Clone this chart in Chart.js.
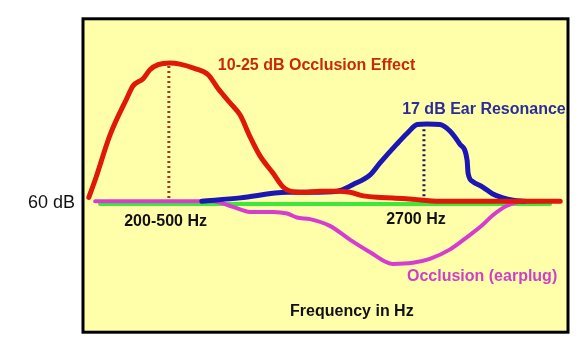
<!DOCTYPE html>
<html>
<head>
<meta charset="utf-8">
<script src="https://cdn.jsdelivr.net/npm/chart.js@4/dist/chart.umd.min.js"></script>
<style>
  body { margin: 0; background: #fff; }
  #wrap { width: 580px; height: 351px; }
</style>
</head>
<body>
<div id="wrap"><canvas id="myChart" width="580" height="351"></canvas></div>
<script>
// x = relative position along the frequency axis (0..100), y = level in dB
const occlusionX = [1.2, 2.5, 5.6, 9.1, 10.3, 12.4, 13.8, 15.5, 17.9, 20.0, 23.1, 25.8, 27.8, 30.3, 32.4, 34.4, 36.5, 39.2, 41.2, 42.7, 45.4, 48.9, 52.4, 55.1, 57.1, 60.6, 63.9, 67.4, 73.6, 86.0, 98.4];
const occlusionDb = [61.0, 64.1, 72.2, 78.8, 80.9, 82.2, 83.8, 84.7, 85.0, 84.8, 84.0, 82.9, 80.5, 77.9, 75.7, 71.9, 68.4, 65.3, 62.9, 62.1, 61.9, 62.1, 62.1, 61.9, 61.4, 61.0, 60.9, 60.7, 60.3, 60.3, 60.3];

const resonanceX = [24.5, 32.4, 42.1, 46.8, 52.4, 55.7, 59.2, 61.2, 64.7, 66.8, 68.9, 70.9, 73.6, 75.7, 77.7, 79.2, 79.4, 80.4, 82.5, 84.5, 86.6, 88.7, 91.1];
const resonanceDb = [60.3, 60.9, 61.9, 61.9, 62.1, 63.3, 65.0, 67.1, 70.5, 72.4, 74.0, 74.1, 74.0, 72.8, 70.5, 67.6, 65.3, 63.8, 62.8, 61.6, 60.9, 60.5, 60.3];

const earplugX = [2.5, 26.8, 30.9, 34.4, 39.2, 42.1, 44.1, 46.8, 50.9, 55.1, 59.2, 63.9, 68.0, 71.5, 75.7, 79.2, 82.3, 84.5, 87.4, 90.1, 94.2];
const earplugDb = [60.3, 60.3, 59.3, 58.4, 58.4, 58.1, 57.4, 57.1, 55.9, 53.4, 51.2, 49.1, 49.3, 50.0, 51.7, 53.9, 56.0, 57.8, 59.5, 60.2, 60.3];

const openX = [3.5, 96.3];
const openDb = [59.8, 59.8];

const occlusionPeakX = [17.7, 17.7];
const occlusionPeakDb = [60.0, 84.5];
const resonancePeakX = [70.3, 70.3];
const resonancePeakDb = [61.2, 73.6];

const yTicks = [60];

const notes = [
  { text: '10-25 dB Occlusion Effect', x: 27.8, y: 84.5, color: '#c8290a' },
  { text: '17 dB Ear Resonance', x: 65.8, y: 76.6, color: '#2b2b9b' },
  { text: '200-500 Hz', x: 8.5, y: 56.7, color: '#111' },
  { text: '2700 Hz', x: 62.5, y: 57.1, color: '#111' },
  { text: 'Occlusion (earplug)', x: 66.8, y: 46.9, color: '#d03fc8' },
  { text: 'Frequency in Hz', x: 42.7, y: 40.5, color: '#111' }
];

const pts = (xs, ys) => xs.map((x, i) => ({ x: x, y: ys[i] }));

const boxPlugin = {
  id: 'box',
  beforeDatasetsDraw(chart) {
    const a = chart.chartArea, c = chart.ctx;
    c.save();
    c.fillStyle = '#ffffaa';
    c.fillRect(a.left, a.top, a.right - a.left, a.bottom - a.top);
    c.restore();
  },
  afterDatasetsDraw(chart) {
    const a = chart.chartArea, c = chart.ctx;
    const xs = chart.scales.x, ys = chart.scales.y;
    c.save();
    c.strokeStyle = '#000';
    c.lineWidth = 3;
    c.strokeRect(a.left, a.top, a.right - a.left, a.bottom - a.top);
    c.font = 'bold 16px "Liberation Sans", Arial, sans-serif';
    c.textAlign = 'left';
    c.textBaseline = 'middle';
    notes.forEach(n => {
      c.fillStyle = n.color;
      c.fillText(n.text, xs.getPixelForValue(n.x), ys.getPixelForValue(n.y));
    });
    c.restore();
  }
};

const line = (data, color, width, order, extra) => Object.assign({
  data: data,
  borderColor: color,
  borderWidth: width,
  pointRadius: 0,
  cubicInterpolationMode: 'monotone',
  borderCapStyle: 'round',
  borderJoinStyle: 'round',
  fill: false,
  order: order
}, extra || {});

new Chart(document.getElementById('myChart'), {
  type: 'line',
  data: {
    datasets: [
      line(pts(occlusionX, occlusionDb), '#e0180a', 5, 1),
      line(pts(resonanceX, resonanceDb), '#1c16b5', 5, 2),
      line(pts(earplugX, earplugDb), '#d63cd0', 4, 3),
      line(pts(openX, openDb), '#3ee83a', 4, 4),
      line(pts(occlusionPeakX, occlusionPeakDb), '#9a3a1a', 3, 5, { borderDash: [2, 3], borderCapStyle: 'butt', cubicInterpolationMode: 'default', tension: 0 }),
      line(pts(resonancePeakX, resonancePeakDb), '#1a1a55', 3, 5, { borderDash: [2, 3], borderCapStyle: 'butt', cubicInterpolationMode: 'default', tension: 0 })
    ]
  },
  options: {
    responsive: false,
    animation: false,
    layout: { padding: { top: 13, right: 12, bottom: 13, left: 0 } },
    plugins: { legend: { display: false }, tooltip: { enabled: false } },
    scales: {
      x: { type: 'linear', min: 0, max: 100, display: false },
      y: {
        min: 36.9,
        max: 92.9,
        grid: { display: false, drawTicks: false },
        border: { display: false },
        afterBuildTicks: s => { s.ticks = yTicks.map(v => ({ value: v })); },
        afterFit: s => { s.width = 83; },
        ticks: {
          padding: 8,
          color: '#111',
          font: { family: '"Liberation Sans", Arial, sans-serif', size: 18 },
          callback: v => v + ' dB'
        }
      }
    }
  },
  plugins: [boxPlugin]
});
</script>
</body>
</html>
